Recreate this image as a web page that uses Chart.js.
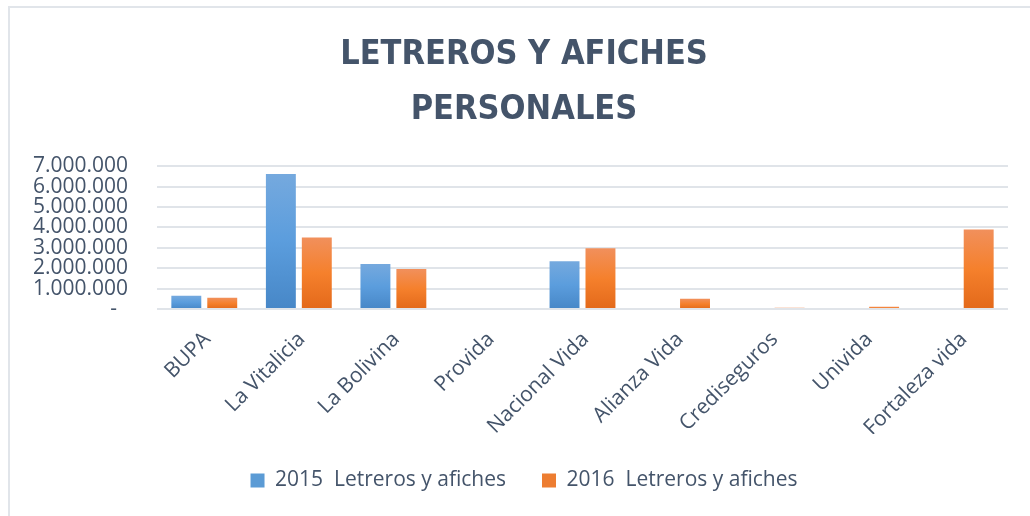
<!DOCTYPE html>
<html>
<head>
<meta charset="utf-8">
<title>Letreros y afiches personales</title>
<script src="https://cdn.jsdelivr.net/npm/chart.js@4"></script>
<style>
  html, body { margin: 0; padding: 0; background: #fff; }
  #wrap { position: relative; width: 1030px; height: 516px; overflow: hidden; }
  #frame { position: absolute; left: 8px; top: 6px; width: 1100px; height: 600px; border: 2px solid #e1e5ea; }
  #chart { position: absolute; left: 0; top: 0; }
</style>
</head>
<body>
<div id="wrap">
  <div id="frame"></div>
  <canvas id="chart" width="1030" height="516"></canvas>
</div>
<script>
// datos
const companias = ['BUPA', 'La Vitalicia', 'La Bolivina', 'Provida', 'Nacional Vida',
                   'Alianza Vida', 'Crediseguros', 'Univida', 'Fortaleza vida'];
const valores2015 = [650000, 6620000, 2200000, 0, 2340000, 0, 0, 0, 0];
const valores2016 = [550000, 3510000, 1960000, 0, 2980000, 500000, 60000, 110000, 3900000];
const etiquetasSeries = ['2015  Letreros y afiches', '2016  Letreros y afiches'];
const tituloLineas = ['LETREROS Y AFICHES', 'PERSONALES'];

const textColor = '#44546A';
const gridColor = '#e0e4e9';
const legendColors = ['#5B9BD5', '#ED7D31'];

// gradiente por barra (estilo Excel)
function barGradient(stops, solid) {
    return function (ctx) {
        if (ctx.type !== 'data') return solid;
        const chart = ctx.chart;
        const y = chart.scales.y;
        if (!chart.chartArea || !y) return solid;
        const top = y.getPixelForValue(ctx.raw);
        let bottom = y.getPixelForValue(0);
        if (bottom - top < 1) bottom = top + 1;
        const g = chart.ctx.createLinearGradient(0, top, 0, bottom);
        stops.forEach(s => g.addColorStop(s[0], s[1]));
        return g;
    };
}

// las etiquetas del eje y salen del borde izquierdo del eje: no recortarlas
const unclipY = {
    id: 'unclipY',
    afterLayout(chart) { chart.scales.y.left = 0; }
};

const ctx = document.getElementById('chart').getContext('2d');
const chart = new Chart(ctx, {
    type: 'bar',
    data: {
        labels: companias,
        datasets: [{
            label: etiquetasSeries[0],
            data: valores2015,
            backgroundColor: barGradient([[0, '#75A9DE'], [0.5, '#5B9DDD'], [1, '#4787C7']], '#5B9BD5'),
            categoryPercentage: 0.76,
            barPercentage: 0.833
        }, {
            label: etiquetasSeries[1],
            data: valores2016,
            backgroundColor: barGradient([[0, '#F1905C'], [0.5, '#F5802C'], [1, '#E3691A']], '#ED7D31'),
            categoryPercentage: 0.76,
            barPercentage: 0.833
        }]
    },
    plugins: [unclipY],
    options: {
        responsive: false,
        animation: false,
        layout: { padding: { left: 40, right: 22, top: 0, bottom: 15 } },
        plugins: {
            title: {
                display: true,
                text: tituloLineas,
                color: textColor,
                font: { family: '"DejaVu Sans Condensed", "DejaVu Sans", sans-serif', size: 34, weight: 'bold', lineHeight: 1.62 },
                padding: { top: 28, bottom: 28 }
            },
            legend: {
                position: 'bottom',
                labels: {
                    color: textColor,
                    font: { family: '"Open Sans", sans-serif', size: 21 },
                    boxWidth: 14,
                    boxHeight: 14,
                    padding: 36,
                    generateLabels: function (chart) {
                        const items = Chart.defaults.plugins.legend.labels.generateLabels(chart);
                        items.forEach((it, i) => {
                            it.fillStyle = legendColors[i];
                            it.strokeStyle = legendColors[i];
                            it.lineWidth = 0;
                        });
                        return items;
                    }
                }
            },
            tooltip: { enabled: false }
        },
        scales: {
            x: {
                grid: { display: false },
                border: { display: false },
                ticks: {
                    color: textColor,
                    font: { family: '"Open Sans", sans-serif', size: 21 },
                    minRotation: 45,
                    maxRotation: 45,
                    autoSkip: false,
                    labelOffset: 3,
                    padding: 10
                },
                afterFit: function (scale) { scale.height = 125; }
            },
            y: {
                min: 0,
                max: 7000000,
                border: { display: false },
                grid: { color: gridColor, lineWidth: 2, drawTicks: false, tickLength: 0 },
                ticks: {
                    stepSize: 1000000,
                    autoSkip: false,
                    color: textColor,
                    font: { family: '"Open Sans", sans-serif', size: 21 },
                    padding: 29,
                    callback: function (v) {
                        return v === 0 ? '-  ' : v.toLocaleString('de-DE');
                    }
                },
                afterFit: function (scale) { scale.width = 117; }
            }
        }
    }
});
</script>
</body>
</html>
